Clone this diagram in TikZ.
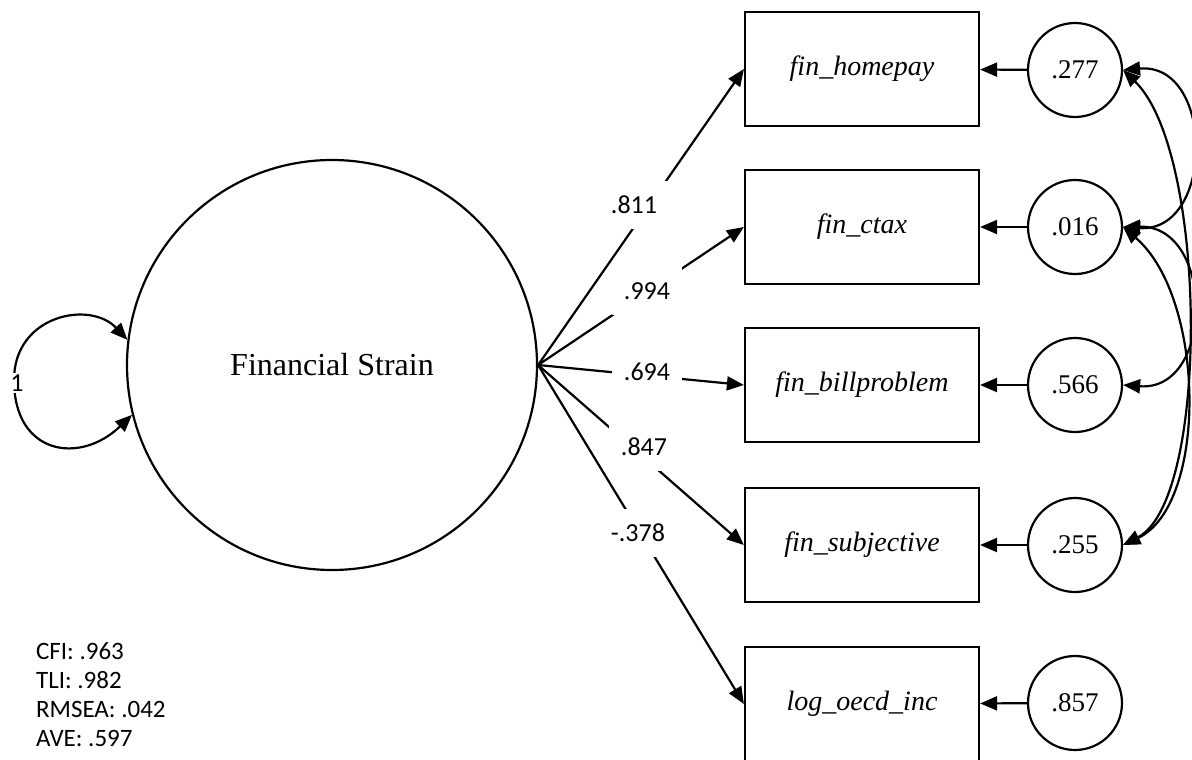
\documentclass[tikz,border=0pt]{standalone}
\usepackage{fontspec}
\setmainfont{Liberation Serif}
\newfontfamily\labelfont{Carlito}
\usetikzlibrary{arrows.meta}
\begin{document}
\begin{tikzpicture}[x=1pt,y=-1pt,
  line width=2.2pt,
  tip/.style={-{Triangle[length=17pt,width=14pt]}},
  both/.style={{Triangle[length=17pt,width=14pt]}-{Triangle[length=17pt,width=14pt]}},
  latent/.style={circle, draw, minimum size=410pt, inner sep=0pt, font=\fontsize{32}{38}\selectfont},
  observed/.style={rectangle, draw, minimum width=234pt, minimum height=114pt, inner sep=0pt, font=\fontsize{28}{34}\selectfont\itshape},
  errvar/.style={circle, draw, minimum size=94pt, inner sep=0pt, font=\fontsize{27}{32}\selectfont},
  coef/.style={fill=white, minimum width=70pt, minimum height=48pt, inner sep=0pt, font=\labelfont\fontsize{26}{31}\selectfont},
  fitline/.style={anchor=base west, inner sep=0pt, font=\labelfont\fontsize{25}{29}\selectfont}
]
\useasboundingbox (0,0) rectangle (1192,760);

% latent factor
\node[latent] (fs) at (332,365) {Financial Strain};

% indicators
\node[observed] (x1) at (862,69)  {fin\_homepay};
\node[observed] (x2) at (862,227) {fin\_ctax};
\node[observed] (x3) at (862,385) {fin\_billproblem};
\node[observed] (x4) at (862,545) {fin\_subjective};
\node[observed] (x5) at (862,704) {log\_oecd\_inc};

% residual variances
\node[errvar] (e1) at (1075,70)  {.277};
\node[errvar] (e2) at (1075,227) {.016};
\node[errvar] (e3) at (1075,385) {.566};
\node[errvar] (e4) at (1075,545) {.255};
\node[errvar] (e5) at (1075,703) {.857};

\foreach \i in {1,...,5} {
  \draw[tip] (e\i) -- (x\i);
  \draw[tip] (fs.east) -- (x\i.west);
}

% standardized loadings
\node[coef] (l1) at (634,205) {.811};
\node[coef] (l2) at (647,291) {.994};
\node[coef] (l3) at (647,372) {.694};
\node[coef] (l4) at (644,447) {.847};
\node[coef] (l5) at (638,533) {-.378};

% residual covariances
\draw[both] (e1.east) .. controls (1215,62) and (1215,233) .. (e2.east);
\draw[both] (e1.east) .. controls (1208,152) and (1210,500) .. (e4.east);
\draw[both] (e2.east) .. controls (1215,225) and (1215,392) .. (e3.east);
\draw[both] (e2.east) .. controls (1206,298) and (1208,505) .. (e4.east);

% factor variance loop
\draw[both] (fs.173) .. controls (90,300) and (14,315) .. (14,380)
  .. controls (14,455) and (80,465) .. (fs.194);
\node[fill=white, inner sep=2pt, font=\labelfont\fontsize{26}{31}\selectfont] (v1) at (17,383) {1};

% fit indices
\node[fitline] (f1) at (35,659) {CFI: .963};
\node[fitline] (f2) at (35,688) {TLI: .982};
\node[fitline] (f3) at (35,717) {RMSEA: .042};
\node[fitline] (f4) at (35,746) {AVE: .597};
\end{tikzpicture}
\end{document}
